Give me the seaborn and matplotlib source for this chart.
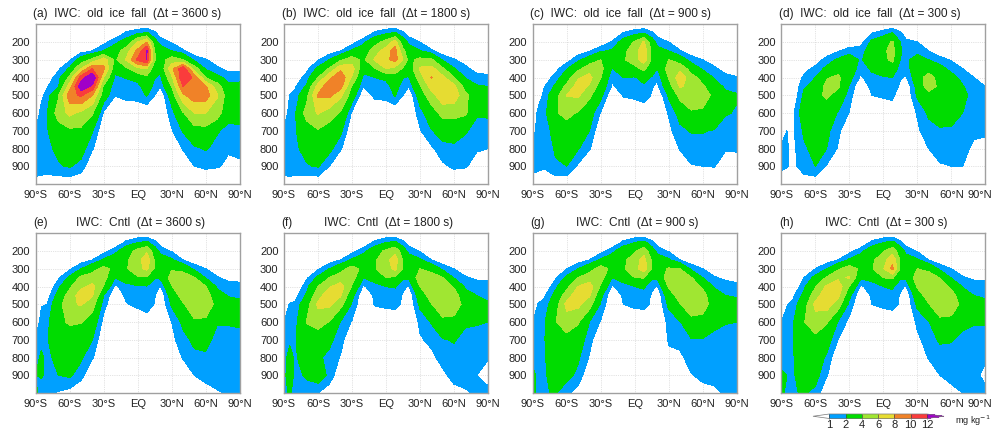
import matplotlib
matplotlib.use('Agg')
import matplotlib.pyplot as plt
import numpy as np
import seaborn as sns
from matplotlib.colors import ListedColormap
from matplotlib.transforms import ScaledTranslation

# latitude and pressure of the table entries, one inner list per latitude
LATS = [-90, -85, -80, -70, -60, -50, -40, -30, -20, -10, 0, 8, 15, 20, 30, 40, 50, 60, 70, 80, 90]
LEVS = [100, 150, 200, 250, 300, 350, 400, 450, 500, 600, 700, 800, 900, 1000]

IWC_A = [
    [0, 0, 0, 0, 0, 0, 0, 0, 0, 0, 1, 1.5, 1.8, .4],
    [0, 0, 0, 0, 0, 0, 0, 0, .7, 1.5, 1.6, 1.5, 1.5, .5],
    [0, 0, 0, 0, 0, 0, .4, .9, 1.4, 1.9, 1.9, 1.8, 1.5, .4],
    [0, 0, 0, 0, 0, .8, 1.5, 1.9, 3.8, 4.9, 3, 2.2, 1.9, .2],
    [0, 0, 0, 0, .8, 2.2, 4.5, 7, 9.3, 6.5, 3.6, 3, 2.1, .2],
    [0, 0, 0, .5, 2.8, 6, 11, 13.5, 10.3, 5.5, 3.6, 2.6, 1.6, 0],
    [0, 0, 0, 1, 4.5, 10, 14, 11.5, 8, 4.2, 2.1, 1.1, 0, 0],
    [0, 0, .6, 2.1, 7, 8.5, 6, 3.6, 2.8, .8, 0, 0, 0, 0],
    [0, 0, 1.7, 2.8, 3.6, 2.6, 1.7, 1.2, 1.05, 0, 0, 0, 0, 0],
    [0, 1.2, 2.6, 5.2, 6.2, 3.6, 2.1, 1.4, 1.4, 0, 0, 0, 0, 0],
    [0, 1.8, 6, 8.5, 10.5, 5.5, 2.6, 1.5, 1.5, 0, 0, 0, 0, 0],
    [0, 2.2, 8, 12.3, 12, 6, 3.5, 3, 2.1, 0, 0, 0, 0, 0],
    [0, 1.2, 2.6, 4, 4.2, 2.8, 2.1, 1.5, 1, 0, 0, 0, 0, 0],
    [0, .5, 1.5, 2.8, 3, 2.4, 1.7, 1.05, 0, 0, 0, 0, 0, 0],
    [0, 0, .9, 2, 5, 7.5, 5.5, 4.1, 2.8, 1.5, .9, 0, 0, 0],
    [0, 0, 0, 1.2, 4, 11.5, 11.8, 10, 7.6, 3.8, 2.1, 1.1, 0, 0],
    [0, 0, 0, .2, 1.7, 5, 9.5, 9.8, 9.2, 6, 3.2, 1.8, 1, 0],
    [0, 0, 0, 0, 1.1, 1.8, 4, 8.2, 9, 6, 3.3, 2.1, 1.2, 0],
    [0, 0, 0, 0, .5, 1.2, 2.4, 5, 6.2, 5, 2.1, 1.7, 1.1, 0],
    [0, 0, 0, 0, 0, .7, 1.6, 2.3, 2.8, 2.4, 1.7, 1.1, .8, 0],
    [0, 0, 0, 0, 0, .7, 1.7, 2.3, 2.7, 2.4, 1.8, 1.2, .85, 0],
]
IWC_B = [
    [0, 0, 0, 0, 0, 0, 0, 0, 0, 0, 1.2, 1.5, 1.5, .5],
    [0, 0, 0, 0, 0, 0, 0, 0, 1, 1.6, 1.7, 1.9, 1.7, .5],
    [0, 0, 0, 0, 0, 0, .4, .9, 1.3, 1.9, 1.9, 1.8, 1.6, .4],
    [0, 0, 0, 0, 0, .7, 1.4, 2.2, 3.4, 4.8, 3, 2.4, 1.9, .2],
    [0, 0, 0, 0, .9, 2.3, 4, 6.8, 8.2, 6.2, 3.8, 3, 2.1, .1],
    [0, 0, 0, .4, 2, 4.2, 7.5, 9.3, 8.5, 5, 3, 2.4, 1, 0],
    [0, 0, 0, 1, 3.7, 7.5, 9.5, 8.7, 6.4, 3.7, 2.3, 1.1, 0, 0],
    [0, 0, .5, 2.2, 5, 6.9, 5.7, 3.8, 2.9, .8, 0, 0, 0, 0],
    [0, 0, 1.7, 2.8, 3.5, 2.4, 1.7, 1.05, 0, 0, 0, 0, 0, 0],
    [0, 1.2, 3.2, 5, 6.2, 3.8, 2, 1.4, 1.3, 0, 0, 0, 0, 0],
    [0, 1.8, 4.7, 7, 7.5, 6, 2.3, 1.5, 1.4, 0, 0, 0, 0, 0],
    [0, 2.2, 6.8, 9, 8.7, 5.3, 3, 2.6, 2.1, 0, 0, 0, 0, 0],
    [0, 1.2, 2.8, 4.5, 6, 3.7, 2.05, 1.4, 1, 0, 0, 0, 0, 0],
    [0, .5, 1.7, 2.8, 3.5, 2.5, 1.9, 1.05, 0, 0, 0, 0, 0, 0],
    [0, 0, 1, 2.1, 4.5, 6.3, 5, 3.8, 2.8, 1.5, .9, 0, 0, 0],
    [0, 0, 0, 1.2, 4.3, 6.7, 8.1, 6.8, 5.2, 3, 1.9, .8, 0, 0],
    [0, 0, 0, .3, 1.9, 4.3, 6.5, 7.6, 7.4, 4.6, 2.6, 1.6, .8, 0],
    [0, 0, 0, 0, 1.1, 2.1, 4.1, 6.5, 7.2, 4.6, 2.7, 1.7, 1.2, 0],
    [0, 0, 0, 0, .5, 1.3, 1.9, 3.2, 4.5, 4.3, 2.2, 1.3, 1.1, 0],
    [0, 0, 0, 0, 0, .5, 1.5, 2.1, 2.6, 2.2, 1.4, 1.1, .6, 0],
    [0, 0, 0, 0, 0, .4, 1.3, 2, 2.5, 2.2, 1.5, 1, 0, 0],
]
IWC_C = [
    [0, 0, 0, 0, 0, 0, 0, 0, 0, 0, .5, 1.3, 1.4, .4],
    [0, 0, 0, 0, 0, 0, 0, 0, .3, 1.4, 1.5, 1.5, 1.3, .2],
    [0, 0, 0, 0, 0, 0, .3, .9, 1.3, 1.5, 1.4, 1, 1.1, .4],
    [0, 0, 0, 0, 0, .6, 1.4, 2.2, 3, 3.8, 2.5, 2.2, 1.8, .3],
    [0, 0, 0, 0, .5, 1.9, 2.9, 4.5, 6.1, 4.6, 3, 2.6, 2, .1],
    [0, 0, 0, .4, 1.7, 3.4, 5.8, 6.8, 6.3, 3.8, 2.6, 2.1, .8, 0],
    [0, 0, 0, .9, 2.8, 5.2, 6.6, 5.8, 4.4, 2.7, 2, 1.1, 0, 0],
    [0, 0, .2, 1.8, 4, 4.6, 4.1, 3, 2.4, .9, 0, 0, 0, 0],
    [0, 0, 1.1, 2.2, 2.9, 1.9, 1.1, .9, 0, 0, 0, 0, 0, 0],
    [0, 1.1, 2.6, 3.5, 3.7, 3, 2, 1.3, 1.1, 0, 0, 0, 0, 0],
    [0, 1.6, 4.2, 5, 5.2, 3.3, 1.9, 1.5, 1.3, 0, 0, 0, 0, 0],
    [0, 2, 6.2, 7.5, 7, 4.5, 2.4, 1.8, 1.7, 0, 0, 0, 0, 0],
    [0, 1.2, 2.8, 3.6, 3.7, 2.7, 1.9, 1.1, .9, 0, 0, 0, 0, 0],
    [0, .5, 1.6, 2.4, 2.7, 2, 1.1, .8, 0, 0, 0, 0, 0, 0],
    [0, 0, 1, 2, 4, 4.8, 4.1, 3.1, 2.2, 1.1, .7, 0, 0, 0],
    [0, 0, 0, 1.1, 2.8, 5.5, 7.2, 6.2, 4.6, 2.5, 1.7, 1.1, 0, 0],
    [0, 0, 0, .4, 1.5, 3, 4.8, 5.5, 5.5, 3.7, 2.1, 1.4, .95, 0],
    [0, 0, 0, 0, 1, 1.8, 3.2, 4.3, 5, 3.6, 2.1, 1.4, 1, 0],
    [0, 0, 0, 0, .5, 1.2, 1.9, 2.6, 3.5, 3.4, 1.9, 1.3, 1.05, 0],
    [0, 0, 0, 0, 0, .6, 1.3, 1.8, 2.3, 2.1, 1.5, 1.1, .5, 0],
    [0, 0, 0, 0, 0, .2, 1.1, 1.6, 2.1, 1.9, 1.4, 1.1, .6, 0],
]
IWC_D = [
    [0, 0, 0, 0, 0, 0, 0, 0, 0, 0, .3, 1.2, 1.2, .4],
    [0, 0, 0, 0, 0, 0, 0, 0, 0, 0, 1, 1.1, 1.1, 0],
    [0, 0, 0, 0, 0, 0, 0, 0, 0, .7, .8, .7, .7, .3],
    [0, 0, 0, 0, 0, .6, 1.2, 1.8, 2.3, 2.9, 2.2, 1.8, 1.5, .4],
    [0, 0, 0, 0, .4, 1.3, 2, 2.5, 3.4, 3.3, 2.8, 2.4, 2, .2],
    [0, 0, 0, .3, 1.4, 2.3, 3.8, 4.6, 4.3, 2.9, 2.3, 2, .9, 0],
    [0, 0, 0, .9, 2.2, 3.1, 4.4, 4.3, 3.3, 1.9, 1.3, .9, 0, 0],
    [0, 0, .2, 1.5, 2.8, 3, 2.5, 1.9, 1.4, .95, 0, 0, 0, 0],
    [0, 0, .6, 1.4, 1.8, 1.4, .8, 0, 0, 0, 0, 0, 0, 0],
    [0, 1, 2.3, 2.9, 3, 2.2, 1.7, 1.4, 1, 0, 0, 0, 0, 0],
    [0, 1.5, 3.1, 3.6, 3.5, 2.7, 1.9, 1.4, 1.2, 0, 0, 0, 0, 0],
    [0, 2.1, 4.2, 4.7, 4.4, 2.9, 2, 1.6, 1.4, 0, 0, 0, 0, 0],
    [0, 1.2, 2, 2.1, 2, 1.5, 1.1, .8, 0, 0, 0, 0, 0, 0],
    [0, .4, 1.3, 1.7, 1.7, 1.4, .9, 0, 0, 0, 0, 0, 0, 0],
    [0, 0, 1, 1.6, 2.6, 3.1, 2.9, 2.5, 2.2, 1.1, .8, 0, 0, 0],
    [0, 0, 0, 1, 2, 3, 5, 5, 3.3, 2.2, 1.6, 1, 0, 0],
    [0, 0, 0, .3, 1.4, 2.5, 3, 3.5, 3.6, 2.8, 1.8, 1.2, .95, 0],
    [0, 0, 0, 0, .9, 1.6, 2.5, 2.9, 3.2, 2.6, 1.8, 1.4, 1, 0],
    [0, 0, 0, 0, .4, 1, 1.6, 2.1, 2.3, 2, 1.6, 1.3, 1, 0],
    [0, 0, 0, 0, 0, .1, 1, 1.4, 1.6, 1.5, 1.2, .8, 0, 0],
    [0, 0, 0, 0, 0, 0, .4, 1, 1.4, 1.5, 1.2, .6, 0, 0],
]
IWC_E = [
    [0, 0, 0, 0, 0, 0, 0, 0, 0, 0, 1.2, 1.6, 2, 2.5],
    [0, 0, 0, 0, 0, 0, 0, 0, .9, 1.5, 1.7, 2.2, 2.2, 1],
    [0, 0, 0, 0, 0, 0, 0, .4, 1, 1.6, 1.9, 1.7, 1.6, 1.1],
    [0, 0, 0, 0, 0, .8, 1.7, 2.6, 3.2, 3.6, 2.8, 2.4, 2, .9],
    [0, 0, 0, 0, .8, 2.3, 3.7, 4.8, 5.6, 4.2, 3.2, 2.4, 2.2, .6],
    [0, 0, 0, .4, 2, 4.4, 5.6, 7, 6.2, 4.1, 2.7, 2.2, 1.4, 0],
    [0, 0, 0, 1, 3.3, 4.9, 6.5, 6.2, 4.8, 3, 2, 1.1, 0, 0],
    [0, 0, .6, 2.2, 4.6, 4.8, 3.8, 2, 1.4, .6, 0, 0, 0, 0],
    [0, 0, 1.6, 2.9, 3.4, 2, .7, 0, 0, 0, 0, 0, 0, 0],
    [0, 1.2, 3, 3.7, 3.8, 2.5, 1.7, 1.3, .9, 0, 0, 0, 0, 0],
    [0, 1.9, 4.6, 5.3, 5.4, 3.7, 1.8, 1.4, 1.3, 0, 0, 0, 0, 0],
    [0, 2.2, 5.7, 7.2, 6.4, 3.6, 1.9, 1.7, 1.9, 0, 0, 0, 0, 0],
    [0, 1.2, 2.8, 3.8, 3.8, 2.1, 1.4, 1.1, .9, 0, 0, 0, 0, 0],
    [0, .5, 1.6, 2.8, 3, 2.2, .9, 0, 0, 0, 0, 0, 0, 0],
    [0, 0, .9, 2.2, 3.8, 4.8, 3.9, 2.8, 2.2, 1, .7, 0, 0, 0],
    [0, 0, 0, 1, 3.4, 5, 5.3, 4.8, 3.8, 2.3, 1.6, 1.1, 0, 0],
    [0, 0, 0, .3, 1.7, 4.1, 5, 5.4, 5.3, 3.7, 2.3, 1.7, 1, 0],
    [0, 0, 0, 0, 1, 1.9, 4.1, 5, 5.5, 3.5, 2.4, 1.8, 1.3, .6],
    [0, 0, 0, 0, .5, 1.1, 1.8, 2.6, 3.2, 2.1, 1.6, 1.5, 1.4, .9],
    [0, 0, 0, 0, 0, .7, 1.4, 1.9, 2.6, 2.1, 1.6, 1.5, 1.4, 1.1],
    [0, 0, 0, 0, 0, .7, 1.3, 1.8, 2.3, 2.2, 1.6, 1.5, 1.4, 1.2],
]
IWC_F = [
    [0, 0, 0, 0, 0, 0, 0, 0, 0, 1, 1.5, 1.8, 1.8, 1.8],
    [0, 0, 0, 0, 0, 0, 0, .2, 1.1, 1.6, 1.9, 2.2, 2.4, 2.1],
    [0, 0, 0, 0, 0, 0, 0, .6, 1.2, 1.6, 1.9, 1.9, 1.8, 1.7],
    [0, 0, 0, 0, 0, .8, 1.6, 2.2, 3.1, 4.1, 3, 2.5, 2.1, 1.7],
    [0, 0, 0, 0, .8, 2.3, 4, 5.2, 6.4, 4.8, 2.8, 2.2, 2.8, 1],
    [0, 0, 0, .4, 2, 4, 5.8, 7.2, 6.4, 3.9, 2.3, 1.7, 1.7, .3],
    [0, 0, 0, 1, 3.3, 5, 6.8, 6.2, 4.6, 1.9, 1.4, .9, 0, 0],
    [0, 0, .6, 2.2, 4.8, 4.9, 3.8, 2.4, 1.8, .9, 0, 0, 0, 0],
    [0, 0, 1.6, 2.9, 3.5, 2, .8, 0, 0, 0, 0, 0, 0, 0],
    [0, 1.2, 3, 3.7, 3.8, 2.4, 1.7, 1.2, 1.1, 0, 0, 0, 0, 0],
    [0, 1.9, 4.4, 5.3, 5.3, 4, 2, 1.4, 1.3, 0, 0, 0, 0, 0],
    [0, 2.2, 5.4, 7, 6.4, 3.6, 2.1, 1.5, 1.4, 0, 0, 0, 0, 0],
    [0, 1.2, 2.8, 3.8, 3.8, 2.2, 1.2, .9, .8, 0, 0, 0, 0, 0],
    [0, .5, 1.6, 2.8, 3, 2.2, .9, 0, 0, 0, 0, 0, 0, 0],
    [0, 0, .9, 2.2, 4, 5, 4, 2.9, 2.3, 1.2, .9, 0, 0, 0],
    [0, 0, 0, 1, 3.3, 5, 5.4, 4.8, 3.9, 2.1, 1.2, .8, 0, 0],
    [0, 0, 0, .3, 1.7, 4.1, 5, 5.4, 5.3, 3.5, 1.9, 1.3, .8, 0],
    [0, 0, 0, 0, 1, 1.9, 3.8, 4.9, 5.3, 3.3, 2.1, 1.6, 1.3, .7],
    [0, 0, 0, 0, .5, 1.1, 1.8, 2.5, 3.2, 2.2, 1.6, 1.4, 1.3, .9],
    [0, 0, 0, 0, 0, .8, 1.5, 2, 2.3, 2.1, 1.6, 1.3, 1, 1.1],
    [0, 0, 0, 0, 0, .8, 1.4, 1.8, 2.1, 2, 1.5, 1.05, .7, 1.2],
]
IWC_G = [
    [0, 0, 0, 0, 0, 0, 0, 0, 0, 1, 1.5, 1.9, 2.1, 2.2],
    [0, 0, 0, 0, 0, 0, 0, .3, 1.1, 1.6, 1.8, 1.9, 1.9, 1.8],
    [0, 0, 0, 0, 0, 0, 0, .8, 1.3, 1.8, 1.9, 1.9, 1.9, 1.9],
    [0, 0, 0, 0, 0, .8, 1.7, 2.4, 3, 3.9, 3.1, 2.6, 2.3, 2.1],
    [0, 0, 0, 0, 1, 2.3, 3.4, 5, 6.6, 5.1, 3.3, 2.6, 2.4, 1.3],
    [0, 0, 0, .4, 2, 4, 6, 7.3, 6.5, 4.2, 2.8, 2.2, 1.7, .5],
    [0, 0, 0, 1, 3.2, 5, 7, 6.2, 4.8, 2, 1.4, .9, 0, 0],
    [0, 0, .6, 2.2, 4.9, 4.8, 3.7, 2.4, 1.8, .9, 0, 0, 0, 0],
    [0, 0, 1.6, 2.9, 3.5, 2, .8, 0, 0, 0, 0, 0, 0, 0],
    [0, 1.2, 3, 3.6, 3.7, 2.4, 1.7, 1.2, 1, 0, 0, 0, 0, 0],
    [0, 1.9, 3.8, 4.9, 5.3, 4, 2, 1.4, 1.3, 0, 0, 0, 0, 0],
    [0, 2.3, 5.2, 6.8, 7, 4.1, 2.2, 1.5, 1.4, 0, 0, 0, 0, 0],
    [0, 1.2, 2.8, 3.8, 3.8, 2.2, 1.2, .9, .8, 0, 0, 0, 0, 0],
    [0, .5, 1.6, 2.8, 3, 2.2, .9, 0, 0, 0, 0, 0, 0, 0],
    [0, 0, .9, 2.2, 4.2, 5.2, 4.2, 3, 2.3, 1.3, 1.1, .8, 0, 0],
    [0, 0, 0, 1, 4, 5.1, 5.4, 4.9, 3.9, 1.9, 1.3, .8, 0, 0],
    [0, 0, 0, .3, 1.7, 4.1, 5, 5.3, 5.2, 3.4, 1.9, 1.4, .95, 0],
    [0, 0, 0, 0, 1, 2, 3.7, 4.8, 5, 3.2, 1.9, 1.5, 1.2, .7],
    [0, 0, 0, 0, .5, 1.1, 1.9, 2.5, 3, 2.3, 1.7, 1.5, 1.3, .8],
    [0, 0, 0, 0, 0, .8, 1.5, 2, 2.5, 2.1, 1.4, 1.4, 1.3, 1.1],
    [0, 0, 0, 0, 0, .6, 1.3, 1.9, 2.3, 2, 1.5, 1.4, 1.3, 1.2],
]
IWC_H = [
    [0, 0, 0, 0, 0, 0, 0, 0, 0, 1, 1.4, 1.8, 2.1, 2.2],
    [0, 0, 0, 0, 0, 0, 0, .3, .9, 1.6, 1.8, 2, 2, 1.8],
    [0, 0, 0, 0, 0, 0, 0, .7, 1.3, 1.8, 1.9, 1.9, 1.9, 1.9],
    [0, 0, 0, 0, 0, 1, 1.7, 2.4, 3, 3.9, 3.2, 2.7, 2.4, 2.1],
    [0, 0, 0, 0, 1, 2.4, 3.8, 5, 6.5, 5.2, 3.4, 2.8, 2.5, 1.7],
    [0, 0, 0, .4, 2, 4.2, 6.3, 7.5, 7, 4.2, 2.7, 1.8, 1.1, 0],
    [0, 0, 0, 1, 3.7, 5.6, 7.2, 6.6, 5, 1.9, 1, 0, 0, 0],
    [0, 0, .6, 2.2, 5, 6.2, 3.9, 2.4, 1.6, .7, 0, 0, 0, 0],
    [0, 0, 1.6, 2.9, 3.6, 2.2, .8, 0, 0, 0, 0, 0, 0, 0],
    [0, 1.2, 3, 3.7, 3.8, 2.4, 1.5, 1.2, 1, 0, 0, 0, 0, 0],
    [0, 1.9, 3.8, 5, 5.8, 4, 2, 1.4, 1.3, 0, 0, 0, 0, 0],
    [0, 2.3, 5.2, 7.5, 8.5, 4.3, 2.2, 1.6, 1.5, 0, 0, 0, 0, 0],
    [0, 1.2, 2.8, 3.8, 3.8, 2.2, 1.2, .9, .8, 0, 0, 0, 0, 0],
    [0, .5, 1.6, 2.8, 3, 2.2, .9, 0, 0, 0, 0, 0, 0, 0],
    [0, 0, .9, 2.2, 4, 5, 4.2, 3, 2.3, 1.2, .8, 0, 0, 0],
    [0, 0, 0, 1, 3.5, 5, 5.4, 4.9, 3.9, 1.9, 1.4, 1.1, 0, 0],
    [0, 0, 0, .3, 1.7, 3.9, 5, 5.5, 5.3, 3.5, 2.2, 1.4, 1, 0],
    [0, 0, 0, 0, 1, 1.9, 3.6, 4.8, 5.3, 3.3, 2.1, 1.5, 1.3, .7],
    [0, 0, 0, 0, .5, 1.1, 1.9, 2.7, 3.3, 2.3, 1.7, 1.5, 1.3, 1],
    [0, 0, 0, 0, 0, .8, 1.5, 2, 2.5, 2.1, 1.5, 1.4, 1.2, 1.1],
    [0, 0, 0, 0, 0, .8, 1.4, 1.8, 2.3, 2.1, 1.6, 1.1, .8, 1.2],
]

CONTOUR_LEVELS = [1, 2, 4, 6, 8, 10, 12]
BAND_COLORS = ['#00a0ff', '#00dc00', '#a0e632', '#e6dc32', '#f08228', '#fa3c3c']
TOP_COLOR = '#a000c8'

X_TICKS = [-90, -60, -30, 0, 30, 60, 90]
X_LABELS = ['90°S', '60°S', '30°S', 'EQ', '30°N', '60°N', '90°N']
Y_TICKS = [200, 300, 400, 500, 600, 700, 800, 900]

PANELS = [
    ('(a)', 'IWC:  old  ice  fall  (Δt = 3600 s)', IWC_A),
    ('(b)', 'IWC:  old  ice  fall  (Δt = 1800 s)', IWC_B),
    ('(c)', 'IWC:  old  ice  fall  (Δt = 900 s)', IWC_C),
    ('(d)', 'IWC:  old  ice  fall  (Δt = 300 s)', IWC_D),
    ('(e)', 'IWC:  Cntl  (Δt = 3600 s)', IWC_E),
    ('(f)', 'IWC:  Cntl  (Δt = 1800 s)', IWC_F),
    ('(g)', 'IWC:  Cntl  (Δt = 900 s)', IWC_G),
    ('(h)', 'IWC:  Cntl  (Δt = 300 s)', IWC_H),
]

W, H = 994, 428
COL_LEFT = [35.7, 284, 532.7, 781.3]
ROW_TOP = [24.3, 233.3]
AX_W, AX_H = 204, 159.7
INK = '#222222'


def _box(left, top, width, height):
    return [left / W, 1 - (top + height) / H, width / W, height / H]


def _draw_panel(fig, left, top, values, cmap):
    ax = fig.add_axes(_box(left, top, AX_W, AX_H))
    field = np.array(values, dtype=float).T
    cf = ax.contourf(LATS, LEVS, field, levels=CONTOUR_LEVELS, cmap=cmap, extend='both')
    ax.set_xlim(-90, 90)
    ax.set_ylim(1000, 100)
    ax.set_xticks(X_TICKS, X_LABELS)
    ax.set_yticks(Y_TICKS)
    ax.tick_params(axis='x', length=2, width=0.6, pad=2, labelsize=8, colors=INK)
    ax.tick_params(axis='y', length=0, pad=4, labelsize=8, colors=INK)
    ax.grid(True, ls=':', lw=0.5, color='#c8c8c8')
    ax.set_axisbelow(True)
    for spine in ax.spines.values():
        spine.set_color('#a0a0a0')
        spine.set_linewidth(1)
    return ax, cf


def main():
    sns.set_theme(style='white')
    plt.rcParams['font.family'] = ['Liberation Sans', 'DejaVu Sans']

    palette = sns.color_palette(BAND_COLORS)
    cmap = ListedColormap(palette)
    cmap.set_under((1, 1, 1, 0))
    cmap.set_over(TOP_COLOR)

    fig = plt.figure(figsize=(W / 100, H / 100), dpi=100)

    cf = None
    for i, (letter, title, values) in enumerate(PANELS):
        left = COL_LEFT[i % 4]
        top = ROW_TOP[i // 4]
        ax, cf = _draw_panel(fig, left, top, values, cmap)
        if i % 4 == 3:
            # keep the last label inside the figure
            last = ax.get_xticklabels()[-1]
            last.set_transform(last.get_transform() + ScaledTranslation(-5 / 100, 0, fig.dpi_scale_trans))
        if i < 4:
            fig.text((left - 2.5) / W, 1 - 14 / H, f'{letter}  {title}',
                     fontsize=8.6, color=INK, ha='left', va='center')
        else:
            fig.text((left - 2.5) / W, 1 - 223 / H, letter,
                     fontsize=8.6, color=INK, ha='left', va='center')
            fig.text((left + AX_W / 2 + 3) / W, 1 - 223 / H, title,
                     fontsize=8.6, color=INK, ha='center', va='center')

    cax = fig.add_axes(_box(813, 414, 131, 4.5))
    cbar = fig.colorbar(cf, cax=cax, orientation='horizontal', extend='both',
                        extendfrac=(0.168, 0.176), drawedges=True)
    cbar.set_ticks(CONTOUR_LEVELS)
    cbar.ax.tick_params(length=0, pad=1, labelsize=8, colors=INK)
    cbar.outline.set_edgecolor('#777777')
    cbar.outline.set_linewidth(0.5)
    cbar.dividers.set_color('#444444')
    cbar.dividers.set_linewidth(0.5)
    fig.text(955 / W, 1 - 421 / H, 'mg kg$^{-1}$', fontsize=6.6, color=INK, ha='left', va='center')

    fig.savefig('out.png', dpi=100)


if __name__ == '__main__':
    main()
